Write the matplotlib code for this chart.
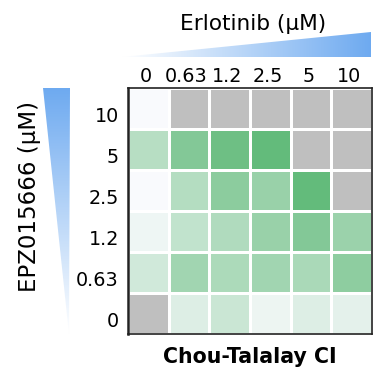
import numpy as np
import matplotlib
matplotlib.use("Agg")
import matplotlib.pyplot as plt
from matplotlib.colors import LinearSegmentedColormap
from matplotlib.patches import Polygon
from matplotlib.transforms import ScaledTranslation

plt.rcParams['font.family'] = ['DejaVu Sans']

# Concentrations (µM)
erlotinib = ["0", "0.63", "1.2", "2.5", "5", "10"]
epz = ["10", "5", "2.5", "1.2", "0.63", "0"]  # top to bottom

# Chou-Talalay combination index; NaN = not determined
nan = np.nan
ci_10 = [1.00, nan, nan, nan, nan, nan]
ci_5 = [0.69, 0.45, 0.35, 0.30, nan, nan]
ci_2_5 = [1.00, 0.68, 0.49, 0.55, 0.30, nan]
ci_1_2 = [0.95, 0.74, 0.66, 0.55, 0.45, 0.56]
ci_0_63 = [0.81, 0.59, 0.64, 0.59, 0.63, 0.50]
ci_0 = [nan, 0.87, 0.78, 0.94, 0.87, 0.90]

ci = np.ma.masked_invalid(np.array([ci_10, ci_5, ci_2_5, ci_1_2, ci_0_63, ci_0]))

W, H = 375, 372
fig = plt.figure(figsize=(W / 100, H / 100), dpi=100)

cmap = LinearSegmentedColormap.from_list("ci", ["#63bb7b", "#f9fafd"])
cmap.set_bad("#bfbfbf")

ax = fig.add_axes([128 / W, 1 - 333.5 / H, 244 / W, 245.5 / H])
ax.pcolormesh(ci, cmap=cmap, vmin=0.30, vmax=1.00,
              edgecolor="white", linewidth=1.0)
ax.set_xlim(0, 6)
ax.set_ylim(6, 0)
ax.xaxis.tick_top()
ax.set_xticks(np.arange(6) + 0.5)
ax.set_xticklabels(erlotinib, fontsize=13.8)
ax.set_yticks(np.arange(6) + 0.5)
ax.set_yticklabels(epz, fontsize=13.8)
ax.tick_params(axis="x", length=0, pad=1.5)
ax.tick_params(axis="y", length=0, pad=6.5)
for lbl in ax.get_xticklabels():
    lbl.set_transform(lbl.get_transform() +
                      ScaledTranslation(-2.5 / 100, 0, fig.dpi_scale_trans))
for lbl in ax.get_yticklabels():
    lbl.set_transform(lbl.get_transform() +
                      ScaledTranslation(0, -6.5 / 100, fig.dpi_scale_trans))
for s in ax.spines.values():
    s.set_color("#222222")
    s.set_linewidth(1.2)
ax.spines["left"].set_linewidth(1.8)

# Overlay in pixel coordinates for the dose wedges and titles
ov = fig.add_axes([0, 0, 1, 1], zorder=-1)
ov.set_xlim(0, W)
ov.set_ylim(H, 0)
ov.axis("off")

blue = np.array([0x6e / 255, 0xaa / 255, 0xf0 / 255])
white = np.array([1.0, 1.0, 1.0])

# Horizontal wedge (Erlotinib)
grad_h = np.linspace(0, 1, 256)[None, :, None]
img_h = white + (blue - white) * grad_h
im = ov.imshow(img_h, extent=(122, 371, 57, 32), aspect="auto")
im.set_clip_path(Polygon([(122, 57), (371, 32), (371, 57)],
                         closed=True, transform=ov.transData))

# Vertical wedge (EPZ015666)
grad_v = np.linspace(1, 0, 256)[:, None, None]
img_v = white + (blue - white) * grad_v
im2 = ov.imshow(img_v, extent=(43, 70, 334, 88), aspect="auto")
im2.set_clip_path(Polygon([(43, 88), (70, 88), (69, 334)],
                          closed=True, transform=ov.transData))

ov.text(253, 30, "Erlotinib (µM)", fontsize=15.6, ha="center", va="baseline")
ov.text(36, 196.5, "EPZ015666 (µM)", fontsize=16.5, ha="center",
        va="baseline", rotation=90, rotation_mode="anchor")
ov.text(250, 363, "Chou-Talalay CI", fontsize=14.8, fontweight="bold",
        ha="center", va="baseline")

fig.savefig("out.png", dpi=100)
